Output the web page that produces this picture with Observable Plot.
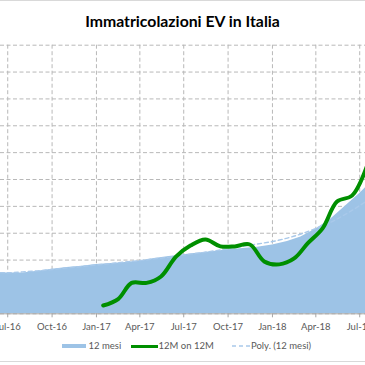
<!DOCTYPE html>
<html><head><meta charset="utf-8">
<script src="https://cdn.jsdelivr.net/npm/d3@7"></script>
<script src="https://cdn.jsdelivr.net/npm/@observablehq/plot@0.6"></script>
<style>
html,body{margin:0;padding:0;overflow:hidden;background:#fff;}
#chart{position:relative;width:365px;height:365px;overflow:hidden;font-family:Lato,"Open Sans",sans-serif;}
#border{position:absolute;left:-3px;top:0;width:371px;height:362px;border:1.5px solid #d9d9d9;box-sizing:border-box;}
#title{position:absolute;left:0;width:365px;top:11.5px;text-align:center;font-weight:bold;font-size:15.8px;line-height:18px;color:#000;}
#plot{position:absolute;left:0;top:0;}
.legtxt{position:absolute;top:339px;font-size:9.5px;line-height:13px;color:#595959;white-space:nowrap;}
.sw{position:absolute;}
</style>
</head><body>
<div id="chart">
  <div id="border"></div>
  <div id="plot"></div>
  <div id="title"></div>
  <div id="legend"></div>
</div>
<script>
const titleText = "Immatricolazioni EV in Italia";
const seriesNames = ["12 mesi", "12M on 12M", "Poly. (12 mesi)"];

// 12-month rolling registrations (blue area), monthly
const areaMonths = ["2016-06-01","2016-07-01","2016-08-01","2016-09-01","2016-10-01","2016-11-01","2016-12-01",
  "2017-01-01","2017-02-01","2017-03-01","2017-04-01","2017-05-01","2017-06-01","2017-07-01","2017-08-01",
  "2017-09-01","2017-10-01","2017-11-01","2017-12-01","2018-01-01","2018-02-01","2018-03-01","2018-04-01",
  "2018-05-01","2018-06-01","2018-07-01","2018-08-01"];
const areaValues = [1.53,1.52,1.52,1.58,1.66,1.72,1.77,
  1.84,1.87,1.91,1.97,2.06,2.13,2.20,2.26,
  2.32,2.38,2.43,2.48,2.56,2.69,2.86,3.16,
  3.51,4.00,4.48,5.04];
// Polynomial trendline of "12 mesi"
const polyValues = [1.54,1.53,1.56,1.60,1.65,1.71,1.76,
  1.82,1.87,1.93,1.98,2.05,2.11,2.19,2.26,
  2.34,2.42,2.51,2.60,2.69,2.82,2.97,3.18,
  3.40,3.70,4.03,4.40];
// 12M on 12M (green line)
const growthMonths = ["2017-01-15","2017-02-15","2017-03-15","2017-04-15","2017-05-15","2017-06-15","2017-07-15",
  "2017-08-15","2017-09-15","2017-10-15","2017-11-15","2017-12-15","2018-01-15","2018-02-15","2018-03-15",
  "2018-04-15","2018-05-15","2018-06-15","2018-07-15"];
const growthValues = [0.31,0.55,1.15,1.15,1.39,2.13,2.54,
  2.77,2.51,2.51,2.58,1.95,1.84,2.06,2.62,
  3.18,4.18,4.40,5.45];
// x-axis ticks
const tickMonths = ["2016-07-01","2016-10-01","2017-01-01","2017-04-01","2017-07-01","2017-10-01","2018-01-01","2018-04-01","2018-07-01"];
const yGrid = [0,1,2,3,4,5,6,7,8,9,10];

const parse = d3.utcParse("%Y-%m-%d");
const area = areaMonths.map((m, i) => ({date: parse(m), value: areaValues[i], poly: polyValues[i]}));
const growth = growthMonths.map((m, i) => ({date: parse(m), value: growthValues[i]}));
const ticks = tickMonths.map(parse);

const colors = {area: "#9dc3e6", green: "#008f00", poly: "#a9c9ea", grid: "#b8b8b8", axis: "#a6a6a6", text: "#595959"};

const chart = Plot.plot({
  width: 365, height: 340,
  marginTop: 44.7, marginBottom: 26.7, marginLeft: 0, marginRight: 0,
  style: {background: "transparent", fontFamily: "Lato, 'Open Sans', sans-serif", fontSize: "9.5px", color: colors.text, overflow: "hidden"},
  x: {type: "utc", domain: [parse("2016-06-16"), parse("2018-07-13")]},
  y: {domain: [0, 10], axis: null},
  marks: [
    Plot.gridY(yGrid, {stroke: colors.grid, strokeOpacity: 1, strokeDasharray: "4,2.5"}),
    Plot.gridX(ticks, {stroke: colors.grid, strokeOpacity: 1, strokeDasharray: "4,2.5"}),
    Plot.areaY(area, {x: "date", y: "value", fill: colors.area, clip: true}),
    Plot.lineY(area, {x: "date", y: "poly", stroke: colors.poly, strokeWidth: 1.4, strokeDasharray: "4,3", curve: "catmull-rom", clip: true}),
    Plot.lineY(growth, {x: "date", y: "value", stroke: colors.green, strokeWidth: 4, curve: "catmull-rom", strokeLinecap: "round", clip: true}),
    Plot.ruleY([0], {stroke: colors.axis}),
    Plot.axisX(ticks, {tickSize: 4, tickPadding: 5, tickFormat: d3.utcFormat("%b-%y"), stroke: colors.axis, fill: colors.text})
  ]
});
document.getElementById("plot").appendChild(chart);
document.getElementById("title").textContent = titleText;

// legend
const leg = document.getElementById("legend");
function add(html){ leg.insertAdjacentHTML("beforeend", html); }
add(`<div class="sw" style="left:62px;top:344px;width:24px;height:4px;background:${colors.area}"></div>`);
add(`<div class="legtxt" style="left:88.5px">${seriesNames[0]}</div>`);
add(`<div class="sw" style="left:131px;top:344.5px;width:27px;height:3px;background:${colors.green}"></div>`);
add(`<div class="legtxt" style="left:158.5px">${seriesNames[1]}</div>`);
add(`<svg class="sw" style="left:232px;top:344px" width="18" height="4"><line x1="0" y1="2" x2="18" y2="2" stroke="${colors.poly}" stroke-width="1.4" stroke-dasharray="4,3"/></svg>`);
add(`<div class="legtxt" style="left:251px">${seriesNames[2]}</div>`);
</script>
</body></html>
